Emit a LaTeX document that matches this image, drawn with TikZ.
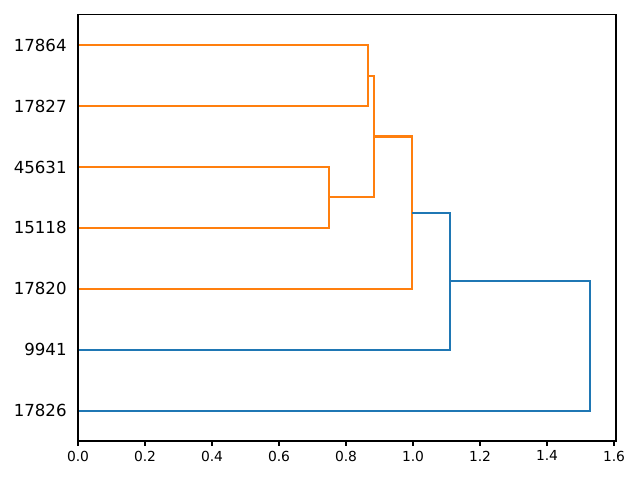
\documentclass[tikz,border=0pt]{standalone}
\usepackage{fontspec}
\setmainfont{DejaVu Sans}
\definecolor{tabblue}{HTML}{1F77B4}
\definecolor{taborange}{HTML}{FF7F0E}

\begin{document}
\begin{tikzpicture}[x=6.7cm, y=0.1218cm,
    link/.style={line width=1.18pt, line join=miter},
    frame/.style={line width=0.63pt}]
  \useasboundingbox (-1.56cm,-0.78cm) rectangle (11.24cm,8.82cm);

  % Leaf labels
  \foreach \lbl/\y in {17864/65, 17827/55, 45631/45, 15118/35, 17820/25, 9941/15, 17826/5} {
    \node[anchor=east, inner sep=0pt, font=\fontsize{9.45}{11}\selectfont] (leaf\lbl) at (-0.033, \y) {\lbl};
  }

  % Orange cluster
  \draw[link, taborange] (0,65) -| (0.866,55) -- (0,55);
  \draw[link, taborange] (0,45) -| (0.749,35) -- (0,35);
  \draw[link, taborange] (0.866,60) -| (0.884,40) -- (0.749,40);
  \draw[link, taborange] (0.884,50) -| (0.997,25) -- (0,25);

  % Blue links
  \draw[link, tabblue] (0.997,37.5) -| (1.11,15) -- (0,15);
  \draw[link, tabblue] (1.11,26.25) -| (1.528,5) -- (0,5);

  % Axes box
  \draw[frame] (0,0) rectangle (1.606,70);

  % x ticks
  \foreach \t in {0.0,0.2,0.4,0.6,0.8,1.0,1.2,1.4,1.6} {
    \draw[frame] (\t,0) -- ++(0,-0.098cm);
    \node[anchor=north, inner sep=0pt, yshift=-0.19cm, font=\fontsize{7.87}{9}\selectfont] (tick\t) at (\t,0) {\t};
  }
\end{tikzpicture}
\end{document}
